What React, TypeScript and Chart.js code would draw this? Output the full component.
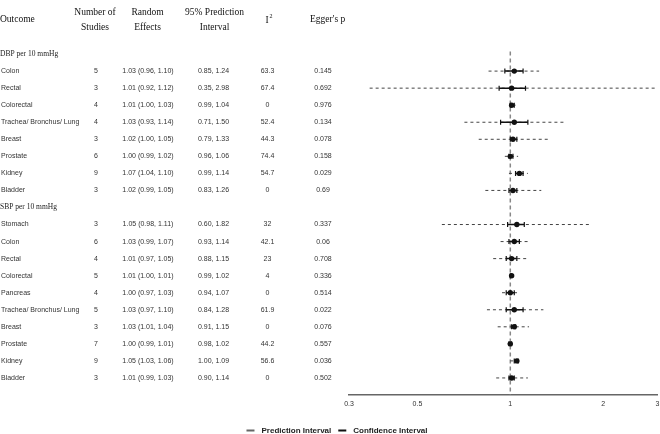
import React, { useEffect, useRef } from 'react';
import { Chart, registerables } from 'chart.js';

Chart.register(...registerables);

// ---------- data ----------
const groupLabels = ['DBP per 10 mmHg', 'SBP per 10 mmHg'];

const dbpOutcomes = ['Colon', 'Rectal', 'Colorectal', 'Trachea/ Bronchus/ Lung', 'Breast', 'Prostate', 'Kidney', 'Bladder'];
const dbpStudies = [5, 3, 4, 4, 3, 6, 9, 3];
const dbpEst = [1.03, 1.01, 1.01, 1.03, 1.02, 1.0, 1.07, 1.02];
const dbpCiLo = [0.96, 0.92, 1.0, 0.93, 1.0, 0.99, 1.04, 0.99];
const dbpCiHi = [1.1, 1.12, 1.03, 1.14, 1.05, 1.02, 1.1, 1.05];
const dbpPiLo = [0.85, 0.35, 0.99, 0.71, 0.79, 0.96, 0.99, 0.83];
const dbpPiHi = [1.24, 2.98, 1.04, 1.5, 1.33, 1.06, 1.14, 1.26];
const dbpI2 = ['63.3', '67.4', '0', '52.4', '44.3', '74.4', '54.7', '0'];
const dbpEgger = ['0.145', '0.692', '0.976', '0.134', '0.078', '0.158', '0.029', '0.69'];

const sbpOutcomes = ['Stomach', 'Colon', 'Rectal', 'Colorectal', 'Pancreas', 'Trachea/ Bronchus/ Lung', 'Breast', 'Prostate', 'Kidney', 'Bladder'];
const sbpStudies = [3, 6, 4, 5, 4, 5, 3, 7, 9, 3];
const sbpEst = [1.05, 1.03, 1.01, 1.01, 1.0, 1.03, 1.03, 1.0, 1.05, 1.01];
const sbpCiLo = [0.98, 0.99, 0.97, 1.0, 0.97, 0.97, 1.01, 0.99, 1.03, 0.99];
const sbpCiHi = [1.11, 1.07, 1.05, 1.01, 1.03, 1.1, 1.04, 1.01, 1.06, 1.03];
const sbpPiLo = [0.6, 0.93, 0.88, 0.99, 0.94, 0.84, 0.91, 0.98, 1.0, 0.9];
const sbpPiHi = [1.82, 1.14, 1.15, 1.02, 1.07, 1.28, 1.15, 1.02, 1.09, 1.14];
const sbpI2 = ['32', '42.1', '23', '4', '0', '61.9', '0', '44.2', '56.6', '0'];
const sbpEgger = ['0.337', '0.06', '0.708', '0.336', '0.514', '0.022', '0.076', '0.557', '0.036', '0.502'];

const xTicks = [0.3, 0.5, 1, 2, 3];
const referenceValue = 1;
const headerOutcome = 'Outcome';
const headerStudies = ['Number of', 'Studies'];
const headerRandom = ['Random', 'Effects'];
const headerPI = ['95% Prediction', 'Interval'];
const headerI2 = ['I', '2'];
const headerEgger = "Egger's p";
const legendLabels = ['Prediction Interval', 'Confidence Interval'];

// ---------- build rows ----------
type Row = {
  row: number; outcome: string; studies: number; est: number; ciLo: number; ciHi: number;
  piLo: number; piHi: number; i2: string; egger: string;
};

function buildRows(start: number, outcomes: string[], studies: number[], est: number[], ciLo: number[], ciHi: number[], piLo: number[], piHi: number[], i2: string[], egger: string[]): Row[] {
  return outcomes.map((o, i) => ({
    row: start + i, outcome: o, studies: studies[i], est: est[i], ciLo: ciLo[i], ciHi: ciHi[i],
    piLo: piLo[i], piHi: piHi[i], i2: i2[i], egger: egger[i],
  }));
}

const groupRows = [0, dbpOutcomes.length + 1];
const rows: Row[] = [
  ...buildRows(1, dbpOutcomes, dbpStudies, dbpEst, dbpCiLo, dbpCiHi, dbpPiLo, dbpPiHi, dbpI2, dbpEgger),
  ...buildRows(dbpOutcomes.length + 2, sbpOutcomes, sbpStudies, sbpEst, sbpCiLo, sbpCiHi, sbpPiLo, sbpPiHi, sbpI2, sbpEgger),
];
const lastRow = rows[rows.length - 1].row + 1;

const SANS = '"Liberation Sans", Arial, sans-serif';
const SERIF = '"Liberation Serif", "Times New Roman", serif';

const COL = { outcome: 1, studies: 96, random: 148, pi: 213.5, i2: 267.5, egger: 323 };

const tablePlugin = {
  id: 'forestTable',
  afterDraw(chart: any) {
    const { ctx } = chart;
    const y = chart.scales.y;
    ctx.save();
    ctx.textBaseline = 'middle';

    // column headers
    ctx.fillStyle = '#111';
    ctx.font = `9.5px ${SERIF}`;
    ctx.textAlign = 'left';
    ctx.fillText(headerOutcome, 0, 19);
    ctx.textAlign = 'center';
    ctx.fillText(headerStudies[0], 95, 12);
    ctx.fillText(headerStudies[1], 95, 27);
    ctx.fillText(headerRandom[0], 147.5, 12);
    ctx.fillText(headerRandom[1], 147.5, 27);
    ctx.fillText(headerPI[0], 214.5, 12);
    ctx.fillText(headerPI[1], 214.5, 27);
    ctx.fillText(headerI2[0], 267, 20);
    ctx.font = `6px ${SERIF}`;
    ctx.textAlign = 'left';
    ctx.fillText(headerI2[1], 269.5, 16.5);
    ctx.font = `9.5px ${SERIF}`;
    ctx.fillText(headerEgger, 310, 19);

    // group labels
    ctx.font = `7.5px ${SERIF}`;
    ctx.fillStyle = '#222';
    ctx.textAlign = 'left';
    groupLabels.forEach((g, i) => ctx.fillText(g, 0, y.getPixelForValue(groupRows[i])));

    // table rows
    ctx.font = `7px ${SANS}`;
    ctx.fillStyle = '#333';
    rows.forEach((r) => {
      const py = y.getPixelForValue(r.row);
      ctx.textAlign = 'left';
      ctx.fillText(r.outcome, COL.outcome, py);
      ctx.textAlign = 'center';
      ctx.fillText(String(r.studies), COL.studies, py);
      ctx.fillText(`${r.est.toFixed(2)} (${r.ciLo.toFixed(2)}, ${r.ciHi.toFixed(2)})`, COL.random, py);
      ctx.fillText(`${r.piLo.toFixed(2)}, ${r.piHi.toFixed(2)}`, COL.pi, py);
      ctx.fillText(r.i2, COL.i2, py);
      ctx.fillText(r.egger, COL.egger, py);
    });

    // legend
    ctx.font = `bold 8px ${SANS}`;
    ctx.fillStyle = '#222';
    ctx.textAlign = 'left';
    const sym = 8, gap = 7;
    const w0 = ctx.measureText(legendLabels[0]).width;
    const w1 = ctx.measureText(legendLabels[1]).width;
    const total = sym + gap + w0 + gap + sym + gap + w1;
    let lx = 337 - total / 2;
    const ly = 430.5;
    const colors = ['#666', '#111'];
    [w0, w1].forEach((w, i) => {
      ctx.fillStyle = colors[i];
      ctx.fillRect(lx, ly - 1, sym, 2);
      lx += sym + gap;
      ctx.fillStyle = '#222';
      ctx.fillText(legendLabels[i], lx, ly);
      lx += w + gap;
    });
    ctx.restore();
  },
};

export default function App() {
  const ref = useRef<HTMLCanvasElement | null>(null);

  useEffect(() => {
    if (!ref.current) return;
    const piData: any[] = [];
    const ciData: any[] = [];
    rows.forEach((r) => {
      piData.push({ x: r.piLo, y: r.row }, { x: r.piHi, y: r.row }, { x: r.piHi, y: null });
      ciData.push({ x: r.ciLo, y: r.row }, { x: r.ciHi, y: r.row }, { x: r.ciHi, y: null });
    });
    const estData = rows.map((r) => ({ x: r.est, y: r.row }));

    const chart = new Chart(ref.current, {
      type: 'scatter',
      data: {
        datasets: [
          {
            label: 'Point estimate',
            data: estData,
            showLine: false,
            pointRadius: 2.7,
            pointBackgroundColor: '#111',
            pointBorderWidth: 0,
            order: 1,
          } as any,
          {
            label: legendLabels[1],
            data: ciData,
            showLine: true,
            spanGaps: false,
            borderColor: '#111',
            borderWidth: 1.5,
            pointStyle: 'line',
            pointRotation: 90,
            pointRadius: 2.5,
            pointBorderColor: '#111',
            pointBorderWidth: 1.2,
            order: 2,
          } as any,
          {
            label: legendLabels[0],
            data: piData,
            showLine: true,
            spanGaps: false,
            borderColor: '#444',
            borderWidth: 1,
            borderDash: [3, 3],
            pointRadius: 0,
            order: 3,
          } as any,
          {
            label: 'Reference',
            data: [{ x: referenceValue, y: -0.15 }, { x: referenceValue, y: lastRow }],
            showLine: true,
            borderColor: '#888',
            borderWidth: 1.5,
            borderDash: [4, 3],
            pointRadius: 0,
            order: 4,
          } as any,
        ],
      },
      options: {
        animation: false,
        responsive: true,
        maintainAspectRatio: false,
        events: [],
        layout: { autoPadding: false, padding: { left: 349, right: 2.5, top: 37, bottom: 20.6 } },
        plugins: { legend: { display: false }, tooltip: { enabled: false } },
        scales: {
          x: {
            type: 'logarithmic',
            min: 0.3,
            max: 3,
            afterBuildTicks: (axis: any) => {
              axis.ticks = xTicks.map((v) => ({ value: v }));
            },
            afterFit: (scale: any) => {
              scale.paddingLeft = 0;
              scale.paddingRight = 0;
            },
            ticks: {
              callback: (v: any) => String(v),
              font: { size: 7, family: SANS },
              color: '#333',
              padding: 5,
              maxRotation: 0,
              autoSkip: false,
            },
            grid: { display: false, drawTicks: false },
            border: { display: true, color: '#666', width: 1.5 },
          },
          y: {
            type: 'linear',
            min: -1,
            max: lastRow,
            reverse: true,
            display: false,
          },
        },
      } as any,
      plugins: [tablePlugin],
    });
    return () => chart.destroy();
  }, []);

  return (
    <div style={{ position: 'fixed', left: 0, top: 0, width: 660, height: 434, background: '#fff' }}>
      <canvas ref={ref} />
    </div>
  );
}
